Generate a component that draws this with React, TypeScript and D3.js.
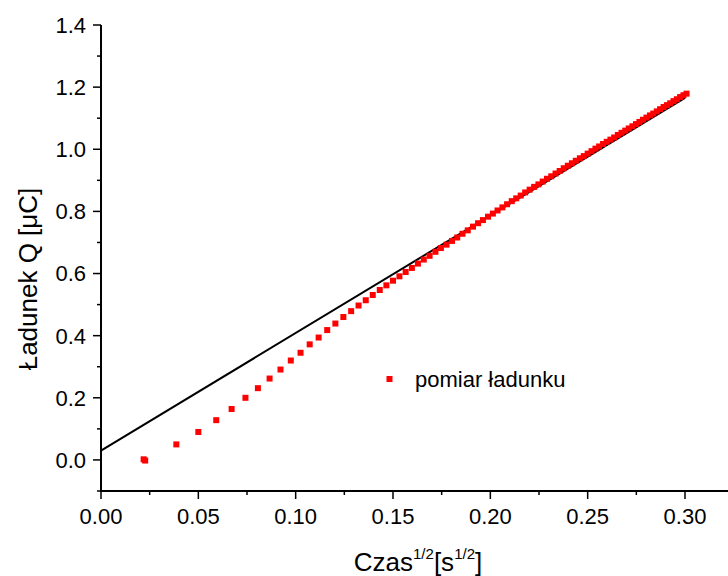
import React from "react";
import * as d3 from "d3";

// sqrt(time) values [s^1/2]
const czas = [
  0.0219, 0.0227, 0.0387, 0.05, 0.0592, 0.0671, 0.0742, 0.0806, 0.0866, 0.0922, 0.0975,
  0.1025, 0.1072, 0.1118, 0.1162, 0.1204, 0.1245, 0.1285, 0.1323, 0.136, 0.1396,
  0.1432, 0.1466, 0.15, 0.1533, 0.1565, 0.1597, 0.1628, 0.1658, 0.1688, 0.1718,
  0.1746, 0.1775, 0.1803, 0.183, 0.1857, 0.1884, 0.1911, 0.1937, 0.1962, 0.1988,
  0.2013, 0.2037, 0.2062, 0.2086, 0.211, 0.2133, 0.2156, 0.2179, 0.2202, 0.2225,
  0.2247, 0.2269, 0.2291, 0.2313, 0.2335, 0.2356, 0.2377, 0.2398, 0.2419, 0.2439,
  0.246, 0.248, 0.25, 0.252, 0.254, 0.2559, 0.2579, 0.2598, 0.2617, 0.2636,
  0.2655, 0.2674, 0.2693, 0.2711, 0.273, 0.2748, 0.2766, 0.2784, 0.2802, 0.282,
  0.2837, 0.2855, 0.2872, 0.289, 0.2907, 0.2924, 0.2941, 0.2958, 0.2975, 0.2992,
  0.3008,
];
// charge Q [uC]
const ladunek = [
  0.002, -0.002, 0.05, 0.09, 0.128, 0.164, 0.2, 0.231, 0.262, 0.291, 0.32,
  0.345, 0.372, 0.394, 0.418, 0.439, 0.46, 0.479, 0.497, 0.514, 0.531,
  0.547, 0.562, 0.577, 0.591, 0.605, 0.618, 0.632, 0.645, 0.657, 0.67,
  0.682, 0.693, 0.705, 0.716, 0.728, 0.739, 0.751, 0.762, 0.772, 0.783,
  0.793, 0.803, 0.813, 0.823, 0.833, 0.842, 0.851, 0.861, 0.87, 0.879,
  0.887, 0.896, 0.905, 0.913, 0.922, 0.93, 0.939, 0.947, 0.955, 0.963,
  0.971, 0.978, 0.986, 0.994, 1.002, 1.009, 1.017, 1.024, 1.031, 1.038,
  1.046, 1.053, 1.06, 1.067, 1.074, 1.081, 1.088, 1.095, 1.102, 1.109,
  1.115, 1.122, 1.129, 1.136, 1.142, 1.148, 1.155, 1.161, 1.168, 1.174,
  1.179,
];
// linear fit line endpoints
const fitX = [0, 0.3];
const fitY = [0.03, 1.1655];

const xMajor = [0, 0.05, 0.1, 0.15, 0.2, 0.25, 0.3];
const xMinor = [0.025, 0.075, 0.125, 0.175, 0.225, 0.275];
const yMajor = [0, 0.2, 0.4, 0.6, 0.8, 1.0, 1.2, 1.4];
const yMinor = [-0.1, 0.1, 0.3, 0.5, 0.7, 0.9, 1.1, 1.3];
const legendLabel = "pomiar ładunku";

const W = 728;
const H = 576;
const FONT = "'Liberation Sans', Arial, sans-serif";

export default function App() {
  const x = d3.scaleLinear().domain([0, 0.3]).range([101, 685]);
  const y = d3.scaleLinear().domain([-0.1, 1.4]).range([491, 25]);
  const fx = d3.format(".2f");
  const fy = d3.format(".1f");
  const line = d3
    .line<number>()
    .x((_, i) => x(fitX[i]))
    .y((d) => y(d));
  const x0 = x(0);
  const yBase = y(-0.1);
  const ms = 6;

  return (
    <svg
      width={W}
      height={H}
      style={{ position: "absolute", left: 0, top: 0, background: "#fff" }}
      fontFamily={FONT}
    >
      <rect width={W} height={H} fill="#fff" />
      {/* fit line */}
      <path d={line(fitY) || ""} stroke="#000" strokeWidth={2} fill="none" />
      {/* data points */}
      {czas.map((cx, i) => (
        <rect
          key={i}
          x={x(cx) - ms / 2}
          y={y(ladunek[i]) - ms / 2}
          width={ms}
          height={ms}
          fill="#ff0000"
        />
      ))}
      {/* axes */}
      <line x1={x0} x2={W} y1={yBase} y2={yBase} stroke="#000" strokeWidth={2} />
      <line x1={x0} x2={x0} y1={y(1.4)} y2={yBase + 1} stroke="#000" strokeWidth={2} />
      {xMajor.map((v) => (
        <g key={"xm" + v}>
          <line x1={x(v)} x2={x(v)} y1={yBase} y2={yBase + 8} stroke="#000" strokeWidth={1.5} />
          <text x={x(v)} y={524} fontSize={22} textAnchor="middle" fill="#000">
            {fx(v)}
          </text>
        </g>
      ))}
      {xMinor.map((v) => (
        <line key={"xn" + v} x1={x(v)} x2={x(v)} y1={yBase} y2={yBase + 4} stroke="#000" strokeWidth={1.5} />
      ))}
      {yMajor.map((v) => (
        <g key={"ym" + v}>
          <line x1={x0 - 8} x2={x0} y1={y(v)} y2={y(v)} stroke="#000" strokeWidth={1.5} />
          <text x={86} y={y(v)} dy="0.36em" fontSize={22} textAnchor="end" fill="#000">
            {fy(v)}
          </text>
        </g>
      ))}
      {yMinor.map((v) => (
        <line key={"yn" + v} x1={x0 - 4} x2={x0} y1={y(v)} y2={y(v)} stroke="#000" strokeWidth={1.5} />
      ))}
      {/* axis titles */}
      <text x={418} y={571} fontSize={26} textAnchor="middle" fill="#000">
        <tspan>Czas</tspan>
        <tspan fontSize={15} dy={-12}>1/2</tspan>
        <tspan dy={12}>[s</tspan>
        <tspan fontSize={15} dy={-12}>1/2</tspan>
        <tspan dy={12}>]</tspan>
      </text>
      <text
        transform="translate(37,279) rotate(-90)"
        fontSize={26}
        textAnchor="middle"
        fill="#000"
      >
        Ładunek Q [μC]
      </text>
      {/* legend */}
      <rect x={389.5 - 3} y={379 - 3} width={6} height={6} fill="#ff0000" />
      <text x={415} y={387} fontSize={22} fill="#000">
        {legendLabel}
      </text>
    </svg>
  );
}
